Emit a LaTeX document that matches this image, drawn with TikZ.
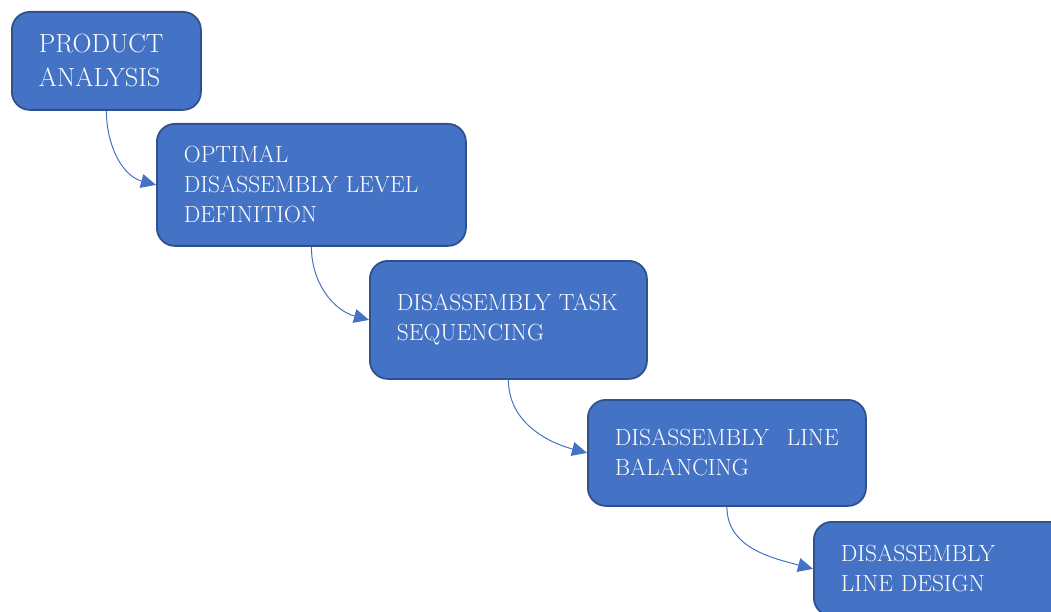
\documentclass[tikz,border=0pt]{standalone}
\usetikzlibrary{arrows.meta}
\definecolor{boxfill}{HTML}{4472C4}
\definecolor{boxline}{HTML}{2F528F}
\definecolor{linkcol}{HTML}{4472C4}
\tikzset{
  stage/.style={draw=boxline, line width=1.8pt, fill=boxfill, rounded corners=18pt,
    text=white, align=left, anchor=north west, inner xsep=27pt, inner ysep=0pt,
    font=\fontsize{23.4}{30}\selectfont},
  link/.style={draw=linkcol, line width=1pt, -{Triangle[length=15pt,width=14pt]},
    out=-90, in=165},
}
\begin{document}
\begin{tikzpicture}[x=1pt,y=-1pt]
  \useasboundingbox (0,0) rectangle (1051,612);
  \node[stage, minimum width=189pt, minimum height=98pt, text width=135pt,
        font=\fontsize{26.3}{34}\selectfont] (p1) at (11,11) {PRODUCT\\ANALYSIS};
  \node[stage, minimum width=309pt, minimum height=122pt, text width=255pt]
        (p2) at (156,123) {OPTIMAL\\DISASSEMBLY LEVEL\\DEFINITION};
  \node[stage, minimum width=277pt, minimum height=118pt, text width=223pt]
        (p3) at (369,260) {DISASSEMBLY TASK\\SEQUENCING};
  \node[stage, minimum width=278pt, minimum height=106pt, text width=224pt]
        (p4) at (587,399) {DISASSEMBLY\hfill LINE\\BALANCING};
  \node[stage, minimum width=262pt, minimum height=94pt, text width=208pt]
        (p5) at (813,521) {DISASSEMBLY\\LINE DESIGN};
  \draw[link] (p1.south) to (p2.west);
  \draw[link] (p2.south) to (p3.west);
  \draw[link] (p3.south) to (p4.west);
  \draw[link] (p4.south) to (p5.west);
\end{tikzpicture}
\end{document}
